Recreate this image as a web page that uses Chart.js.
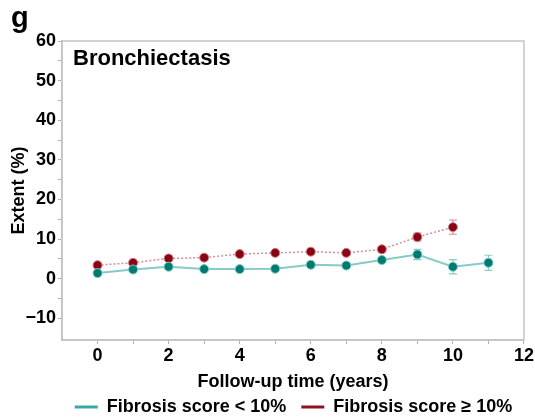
<!DOCTYPE html>
<html>
<head>
<meta charset="utf-8">
<script src="https://cdn.jsdelivr.net/npm/chart.js@4/dist/chart.umd.min.js"></script>
<style>
  html, body { margin: 0; padding: 0; background: #fff; }
  #wrap { width: 535px; height: 418px; }
</style>
</head>
<body>
<div id="wrap"><canvas id="chart" width="535" height="418"></canvas></div>
<script>
// данные
const years = [0, 1, 2, 3, 4, 5, 6, 7, 8, 9, 10, 11];
const lowScore = [1.4, 2.3, 3.0, 2.4, 2.4, 2.5, 3.5, 3.3, 4.7, 6.1, 3.0, 4.0];
const lowErr = [0.4, 0.4, 0.4, 0.4, 0.4, 0.4, 0.5, 0.5, 0.7, 1.3, 1.8, 1.9];
const highScore = [3.4, 4.0, 5.1, 5.3, 6.2, 6.5, 6.8, 6.5, 7.4, 10.5, 13.0];
const highErr = [0.4, 0.4, 0.4, 0.4, 0.4, 0.4, 0.5, 0.5, 0.7, 1.0, 1.8];
const seriesNames = ["Fibrosis score < 10%", "Fibrosis score \u2265 10%"];

const FONT = "'Liberation Sans', Arial, sans-serif";

function toPoints(vals) {
  return vals.map((v, i) => ({ x: years[i], y: v }));
}

// рамка вокруг области графика + планки ошибок
const framePlugin = {
  id: "frame",
  afterLayout(chart) {
    // легенда в оригинале смещена вправо
    if (chart.legend) {
      chart.legend.left += 31;
      chart.legend.right += 31;
    }
  },
  beforeDatasetsDraw(chart) {
    const { ctx, chartArea: a, scales } = chart;
    ctx.save();
    ctx.strokeStyle = "#c4c4c4";
    ctx.lineWidth = 1.5;
    ctx.strokeRect(a.left, a.top, a.right - a.left, a.bottom - a.top);

    chart.data.datasets.forEach(ds => {
      ctx.strokeStyle = ds.errColor;
      ctx.lineWidth = 1.2;
      ds.data.forEach((p, i) => {
        const e = ds.errors[i];
        const x = scales.x.getPixelForValue(p.x);
        const y1 = scales.y.getPixelForValue(p.y - e);
        const y2 = scales.y.getPixelForValue(p.y + e);
        ctx.beginPath();
        ctx.moveTo(x, y1); ctx.lineTo(x, y2);
        ctx.moveTo(x - 4, y1); ctx.lineTo(x + 4, y1);
        ctx.moveTo(x - 4, y2); ctx.lineTo(x + 4, y2);
        ctx.stroke();
      });
    });
    ctx.restore();
  },
  afterDraw(chart) {
    const ctx = chart.ctx;
    ctx.save();
    ctx.fillStyle = "#000";
    ctx.textBaseline = "alphabetic";
    ctx.font = "bold 29px " + FONT;
    ctx.fillText("g", 11, 27);
    ctx.font = "bold 22px " + FONT;
    ctx.fillText("Bronchiectasis", chart.chartArea.left + 11, 65);
    ctx.restore();
  }
};

new Chart(document.getElementById("chart"), {
  type: "line",
  data: {
    datasets: [
      {
        label: seriesNames[0],
        data: toPoints(lowScore),
        errors: lowErr,
        errColor: "#86cbc6",
        borderColor: "#86cbc6",
        borderWidth: 2,
        pointBackgroundColor: "#007a70",
        pointBorderColor: "#7cc9c3",
        pointBorderWidth: 1,
        pointRadius: 4.5,
        legendColor: "#3aa9a2",
        tension: 0
      },
      {
        label: seriesNames[1],
        data: toPoints(highScore),
        errors: highErr,
        errColor: "#cf8a92",
        borderColor: "#d48e96",
        borderWidth: 1.5,
        borderDash: [2, 2],
        pointBackgroundColor: "#8b0012",
        pointBorderColor: "#c98088",
        pointBorderWidth: 1,
        pointRadius: 4.5,
        legendColor: "#8b1420",
        tension: 0
      }
    ]
  },
  options: {
    responsive: false,
    animation: false,
    layout: { padding: { top: 41, right: 10, left: 0, bottom: -8 } },
    plugins: {
      tooltip: { enabled: false },
      legend: {
        position: "bottom",
        labels: {
          font: { family: FONT, size: 18, weight: "bold" },
          color: "#000",
          boxWidth: 23,
          boxHeight: 3,
          padding: 15,
          generateLabels(chart) {
            return chart.data.datasets.map((ds, i) => ({
              text: ds.label,
              fillStyle: ds.legendColor,
              strokeStyle: ds.legendColor,
              lineWidth: 0,
              hidden: false,
              datasetIndex: i
            }));
          }
        }
      }
    },
    scales: {
      x: {
        type: "linear",
        min: -1,
        max: 12,
        afterBuildTicks: s => { s.ticks = s.ticks.filter(t => t.value >= 0); },
        afterFit: s => { s.height = 43; },
        ticks: {
          stepSize: 1,
          autoSkip: false,
          maxRotation: 0,
          padding: 1,
          color: "#000",
          font: { family: FONT, size: 18, weight: "bold" },
          callback: v => (v % 2 === 0 ? String(v) : "")
        },
        grid: { drawOnChartArea: false, drawTicks: true, tickLength: 4, tickColor: "#b0b0b0" },
        border: { display: true, color: "#c4c4c4", width: 1.5 },
        title: {
          display: true,
          text: "Follow-up time (years)",
          color: "#000",
          font: { family: FONT, size: 18, weight: "bold" },
          padding: { top: 0, bottom: -10 }
        }
      },
      y: {
        min: -15.5,
        max: 60,
        afterBuildTicks: s => { s.ticks = s.ticks.filter(t => t.value % 5 === 0); },
        afterFit: s => { s.width = 62; },
        ticks: {
          stepSize: 5,
          autoSkip: false,
          padding: 2,
          color: "#000",
          font: { family: FONT, size: 18, weight: "bold" },
          callback: v => (v % 10 === 0 ? (v < 0 ? "\u2212" + Math.abs(v) : String(v)) : "")
        },
        grid: { drawOnChartArea: false, drawTicks: true, tickLength: 4, tickColor: "#b0b0b0" },
        border: { display: true, color: "#c4c4c4", width: 1.5 },
        title: {
          display: true,
          text: "Extent (%)",
          color: "#000",
          font: { family: FONT, size: 18, weight: "bold" },
          padding: { top: 8, bottom: 0 }
        }
      }
    }
  },
  plugins: [framePlugin]
});
</script>
</body>
</html>
